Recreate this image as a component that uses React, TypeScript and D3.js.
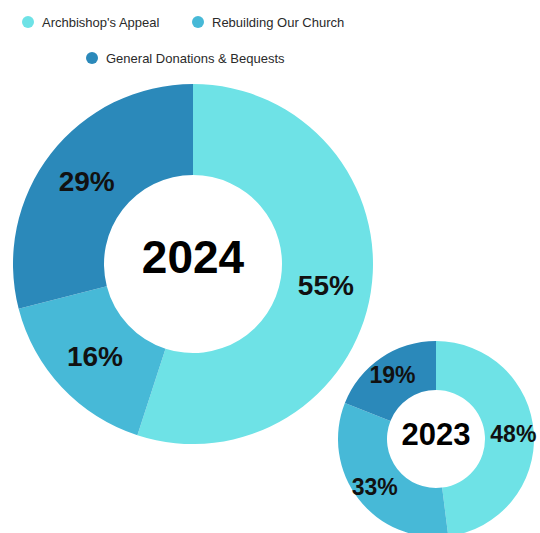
import React from "react";
import * as d3 from "d3";

const categories = ["Archbishop's Appeal", "Rebuilding Our Church", "General Donations & Bequests"];
const colors = ["#6ee2e6", "#47b9d7", "#2b89ba"];
const years = ["2024", "2023"];
const values2024 = [55, 16, 29];
const values2023 = [48, 33, 19];

const W = 540;
const H = 533;

type DonutProps = {
  values: number[];
  year: string;
  cx: number;
  cy: number;
  outer: number;
  inner: number;
  labelSize: number;
  yearSize: number;
  labelOffset: number;
};

function Donut({ values, year, cx, cy, outer, inner, labelSize, yearSize, labelOffset }: DonutProps) {
  const pie = d3.pie<number>().sort(null).value((d) => d);
  const arcs = pie(values);
  const arc = d3.arc<d3.PieArcDatum<number>>().innerRadius(inner).outerRadius(outer);
  const labelArc = d3
    .arc<d3.PieArcDatum<number>>()
    .innerRadius((inner + outer) / 2 + labelOffset)
    .outerRadius((inner + outer) / 2 + labelOffset);
  return (
    <g transform={`translate(${cx},${cy})`}>
      {arcs.map((a, i) => (
        <path key={i} d={arc(a) || ""} fill={colors[i]} />
      ))}
      {arcs.map((a, i) => {
        const [x, y] = labelArc.centroid(a);
        return (
          <text
            key={"l" + i}
            x={x}
            y={y}
            textAnchor="middle"
            dominantBaseline="central"
            fontFamily="'Liberation Sans', Arial, sans-serif"
            fontWeight="bold"
            fontSize={labelSize}
            fill="#111"
          >
            {values[i]}%
          </text>
        );
      })}
      <text
        x={0}
        y={0}
        dy="-0.15em"
        textAnchor="middle"
        dominantBaseline="central"
        fontFamily="'Liberation Sans', Arial, sans-serif"
        fontWeight="bold"
        fontSize={yearSize}
        fill="#000"
      >
        {year}
      </text>
    </g>
  );
}

export default function App() {
  const legendItems = [
    { x: 28, y: 22 },
    { x: 198, y: 22 },
    { x: 92, y: 58 },
  ];
  return (
    <svg width={W} height={H} style={{ position: "absolute", left: 0, top: 0, background: "#fff" }}>
      {categories.map((c, i) => (
        <g key={c}>
          <circle cx={legendItems[i].x} cy={legendItems[i].y} r={6} fill={colors[i]} />
          <text
            x={legendItems[i].x + 14}
            y={legendItems[i].y}
            dominantBaseline="central"
            fontFamily="'Liberation Sans', Arial, sans-serif"
            fontSize={13}
            fill="#2a2a2a"
          >
            {c}
          </text>
        </g>
      ))}
      <Donut values={values2024} year={years[0]} cx={193} cy={264} outer={180} inner={89} labelSize={28} yearSize={46} labelOffset={0} />
      <Donut values={values2023} year={years[1]} cx={436} cy={439} outer={98} inner={49} labelSize={23} yearSize={31} labelOffset={4} />
    </svg>
  );
}
